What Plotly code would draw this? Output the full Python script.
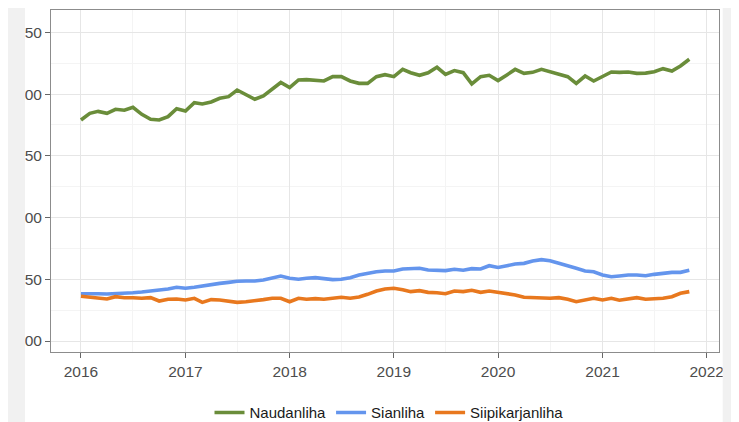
import pandas as pd
import plotly.graph_objects as go

# Monthly producer prices, 2016-01 .. 2021-11
months = pd.date_range("2016-01-01", "2021-11-01", freq="MS")

naudanliha = [
    279.0, 284.4, 286.0, 284.4, 287.7, 286.9, 289.3, 283.6, 279.6, 279.0, 281.7, 288.2,
    286.3, 293.0, 292.0, 293.6, 296.6, 297.9, 303.3, 299.3, 295.8, 298.5, 303.9, 309.4,
    305.2, 311.4, 311.7, 311.4, 310.6, 314.1, 314.1, 310.6, 308.7, 308.7, 314.1, 315.7,
    314.1, 320.0, 317.3, 315.2, 317.3, 321.7, 316.0, 319.0, 317.3, 308.2, 314.1, 315.2,
    310.9, 315.5, 320.0, 316.8, 317.6, 320.0, 317.9, 316.0, 314.1, 308.7, 314.6, 310.6,
    314.1, 317.9, 317.6, 317.9, 316.8, 317.0, 318.1, 320.6, 318.7, 322.8, 328.2,
]
sianliha = [
    138.3, 138.6, 138.3, 138.1, 138.3, 138.6, 139.1, 139.7, 140.3, 141.1, 142.1, 143.5,
    142.7, 143.5, 144.6, 145.9, 146.7, 147.5, 148.4, 148.6, 148.6, 149.4, 151.0, 152.6,
    150.8, 150.0, 150.8, 151.3, 150.5, 149.7, 150.0, 151.3, 153.5, 155.1, 156.1, 156.7,
    156.7, 158.3, 158.9, 158.9, 157.5, 157.3, 157.0, 158.1, 157.3, 158.6, 158.3, 161.0,
    159.6, 161.0, 162.4, 162.9, 164.8, 165.9, 165.0, 162.9, 160.5, 158.9, 156.7, 156.1,
    153.5, 152.1, 152.7, 153.5, 153.5, 152.9, 154.0, 155.1, 155.6, 155.6, 157.3,
]
siipikarjanliha = [
    136.2, 135.6, 134.6, 134.0, 135.9, 135.1, 135.1, 134.6, 135.1, 132.4, 133.8, 134.0,
    133.2, 134.6, 131.3, 133.5, 133.2, 132.4, 131.3, 131.8, 133.0, 133.5, 134.6, 134.6,
    131.8, 134.6, 133.8, 134.3, 133.8, 134.6, 135.4, 134.6, 135.6, 137.8, 140.5, 142.1,
    142.7, 141.6, 140.0, 140.8, 139.4, 139.1, 138.3, 140.5, 140.0, 141.1, 139.4, 140.5,
    139.3, 138.6, 137.3, 135.4, 135.1, 135.1, 134.6, 135.1, 133.8, 131.8, 133.2, 134.6,
    133.2, 134.6, 133.0, 134.0, 135.1, 133.8, 134.0, 134.6, 135.9, 138.6, 140.0,
]

series_names = ["Naudanliha", "Sianliha", "Siipikarjanliha"]
series_values = [naudanliha, sianliha, siipikarjanliha]
series_colors = ["#6a8d3a", "#6495ed", "#e8781e"]

y_ticks = [100, 150, 200, 250, 300, 350]

fig = go.Figure()
for name, vals, col in zip(series_names, series_values, series_colors):
    fig.add_trace(go.Scatter(x=months, y=vals, mode="lines", name=name,
                             line=dict(color=col, width=3.6)))

font_family = "Liberation Sans, Arial, sans-serif"

# the page body adds an 8px margin, so the figure is 8px smaller each way
fig.update_layout(
    width=731, height=414, autosize=False,
    margin=dict(l=43, r=20, t=2, b=70),
    paper_bgcolor="white", plot_bgcolor="white",
    font=dict(family=font_family, size=15.5, color="#4d4d4d"),
    showlegend=True,
    legend=dict(orientation="h", xref="paper", x=0.506, xanchor="center",
                yref="container", y=0.0225, yanchor="middle",
                font=dict(family=font_family, size=15, color="#1a1a1a"),
                itemwidth=30, bgcolor="rgba(0,0,0,0)"),
    xaxis=dict(
        type="date", range=["2015-09-18", "2022-02-13"],
        tick0="2016-01-01", dtick="M12", tickformat="%Y",
        ticks="outside", ticklen=5, tickcolor="#666666", tickwidth=1,
        showgrid=True, gridcolor="#e6e6e6", gridwidth=1,
        minor=dict(dtick="M6", tick0="2016-01-01", showgrid=True, gridcolor="#f4f4f4", ticks=""),
        showline=True, mirror=True, linecolor="#8c8c8c", linewidth=1,
        zeroline=False, automargin=False, tickfont=dict(size=15.5, color="#4d4d4d"),
    ),
    yaxis=dict(
        range=[91.1, 368.1], tickvals=y_ticks,
        ticks="outside", ticklen=5, tickcolor="#666666", tickwidth=1,
        showgrid=True, gridcolor="#e6e6e6", gridwidth=1,
        minor=dict(dtick=25, tick0=100, showgrid=True, gridcolor="#f4f4f4", ticks=""),
        showline=True, mirror=True, linecolor="#8c8c8c", linewidth=1,
        zeroline=False, automargin=False, tickfont=dict(size=15.5, color="#4d4d4d"),
    ),
    shapes=[
        # light grey page strips at the left and right edges of the screenshot
        dict(type="rect", xref="paper", yref="paper", x0=-0.2, x1=-0.0389, y0=-0.4, y1=1.2,
             fillcolor="#f1f1f1", line=dict(width=0), layer="above"),
        dict(type="rect", xref="paper", yref="paper", x0=1.0055, x1=1.2, y0=-0.4, y1=1.2,
             fillcolor="#f1f1f1", line=dict(width=0), layer="above"),
    ],
)

fig.write_html("out.html")
